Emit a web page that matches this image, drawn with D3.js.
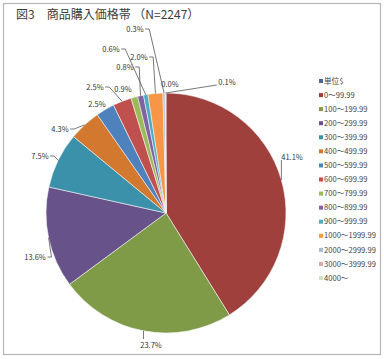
<!DOCTYPE html>
<html>
<head>
<meta charset="utf-8">
<script src="https://cdn.jsdelivr.net/npm/d3@7"></script>
<style>
  html, body { margin: 0; padding: 0; background: #fff; }
  svg { display: block; font-family: "Noto Sans CJK JP", "Noto Sans", sans-serif; }
</style>
</head>
<body>
<svg class="chartSVG" width="384" height="359"></svg>
<script>
// data (share of purchases, %)
const categories = ["単位$", "0～99.99", "100～199.99", "200～299.99", "300～399.99", "400～499.99",
  "500～599.99", "600～699.99", "700～799.99", "800～899.99", "900～999.99", "1000～1999.99",
  "2000～2999.99", "3000～3999.99", "4000～"]
const shares = [0, 41.1, 23.7, 13.6, 7.5, 4.3, 2.5, 2.5, 0.9, 0.8, 0.6, 2.0, 0.3, 0.0, 0.1]
const labelTexts = [null, "41.1%", "23.7%", "13.6%", "7.5%", "4.3%", "2.5%", "2.5%", "0.9%",
  "0.8%", "0.6%", "2.0%", "0.3%", "0.0%", "0.1%"]

// styling / layout (not data)
const sliceColors = ["#46699a", "#a0403d", "#7f9b47", "#68528a", "#3b90aa", "#d3782f",
  "#4f81bd", "#c0504d", "#9bbb59", "#8064a2", "#4bacc6", "#f79646",
  "#a9b8cf", "#d8a9a8", "#d8e2c2"]
// label placement relative to pie centre: [dx, dy, leader mode]
const labelLayout = [null, [126, -56, "T"], [-15, 132, "B"], [-131, 44, "R"], [-126, -57, "R"],
  [-106, -84, "R"], [-69, -109, null], [-71, -126, "R"], [-43, -124, null],
  [-41, -146, "R"], [-55, -164, "R"], [-27, -156, "R"], [-31, -184, "R"],
  [4, -129, null], [61, -131, "L"]]

const svg = d3.select(".chartSVG")
const config = { width: 384, height: 359, cx: 166, cy: 213, r: 120 }

svg.append("rect")
  .attr("x", 3.5).attr("y", 3.5)
  .attr("width", 377).attr("height", 351)
  .attr("fill", "#fff")
  .attr("stroke", "#b5b5b5")
  .attr("stroke-width", 1.2)

svg.append("text")
  .attr("x", 16).attr("y", 19)
  .attr("font-size", "12px")
  .attr("fill", "#3a3a3a")
  .text("図3\u3000商品購入価格帯 （N=2247）")

const color = d3.scaleOrdinal(categories, sliceColors)

const pie = d3.pie().sort(null).value(d => d.value)
const arcs = pie(categories.map((c, i) => ({ cat: c, value: shares[i], i: i })))
const arc = d3.arc().innerRadius(0).outerRadius(config.r)

const g = svg.append("g").attr("transform", `translate(${config.cx},${config.cy})`)

g.selectAll("path.slice")
  .data(arcs)
  .join("path")
  .attr("class", "slice")
  .attr("d", arc)
  .attr("fill", d => color(d.data.cat))
  .attr("stroke", "#f4f4f4")
  .attr("stroke-width", 0.6)

// leader lines + labels
const outerPoint = d => {
  const a = (d.startAngle + d.endAngle) / 2
  return [Math.sin(a) * config.r, -Math.cos(a) * config.r]
}
const labelled = arcs.filter(d => labelTexts[d.data.i] != null)

const lineGen = d3.line()
g.selectAll("path.leader")
  .data(labelled.filter(d => labelLayout[d.data.i][2]))
  .join("path")
  .attr("class", "leader")
  .attr("fill", "none")
  .attr("stroke", "#555")
  .attr("stroke-width", 0.8)
  .attr("d", d => {
    const [lx, ly, mode] = labelLayout[d.data.i]
    const p = outerPoint(d)
    const half = labelTexts[d.data.i].length * 2.3
    if (mode == "T") return lineGen([[p[0], ly + 3], p])
    if (mode == "B") return lineGen([[p[0], ly - 6], p])
    if (mode == "R") return lineGen([[lx + half + 1, ly], [lx + half + 5, ly], p])
    return lineGen([[lx - half - 1, ly + 3], p])
  })

g.selectAll("text.lbl")
  .data(labelled)
  .join("text")
  .attr("class", "lbl")
  .attr("x", d => labelLayout[d.data.i][0])
  .attr("y", d => labelLayout[d.data.i][1])
  .attr("dy", "0.35em")
  .attr("text-anchor", "middle")
  .attr("font-size", "7.5px")
  .attr("fill", "#333")
  .text(d => labelTexts[d.data.i])

// legend
const legendY = d3.scalePoint().domain(categories).range([81, 278])
const legend = svg.append("g").selectAll("g")
  .data(categories)
  .join("g")
  .attr("transform", d => `translate(319,${legendY(d)})`)

legend.append("rect")
  .attr("x", 0).attr("y", -2)
  .attr("width", 4).attr("height", 4)
  .attr("fill", d => color(d))

legend.append("text")
  .attr("x", 5).attr("y", 0)
  .attr("dy", "0.35em")
  .attr("font-size", "7.6px")
  .attr("fill", "#444")
  .text(d => d)
</script>
</body>
</html>
